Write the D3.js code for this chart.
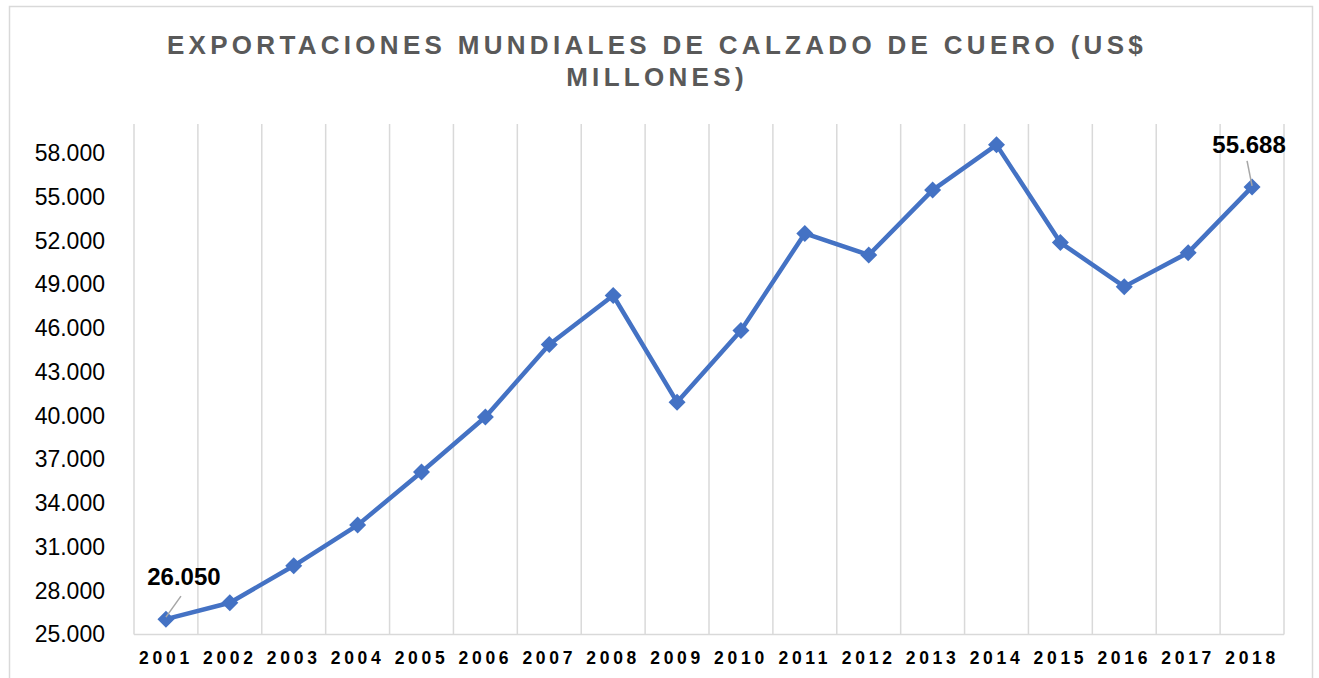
<!DOCTYPE html>
<html lang="es">
<head>
<meta charset="UTF-8">
<title>Exportaciones mundiales de calzado de cuero</title>
<script src="https://cdn.jsdelivr.net/npm/d3@7"></script>
<style>
	body{margin:0;background:#fff;}
	text{font-family:"Liberation Sans",Arial,sans-serif;}
</style>
</head>
<body>
<script>
// datos (US$ millones)
var years = ["2001","2002","2003","2004","2005","2006","2007","2008","2009","2010","2011","2012","2013","2014","2015","2016","2017","2018"];
var values = [26050,27180,29710,32500,36140,39910,44880,48240,40930,45840,52500,51020,55470,58570,51870,48850,51180,55688];
var yTicks = [25000,28000,31000,34000,37000,40000,43000,46000,49000,52000,55000,58000];
var titleLines = ["EXPORTACIONES MUNDIALES DE CALZADO DE CUERO (US$","MILLONES)"];
var labeled = [0, 17]; // indices con etiqueta de datos

var width = 1319, height = 678;
var plot = {left:134, right:1284, top:124, bottom:634.5};
var blue = "#4472C4", grid = "#d9d9d9";

var svg = d3.select("body").append("svg").attr("width",width).attr("height",height);
svg.append("rect").attr("width",width).attr("height",height).attr("fill","#fff");
// borde del grafico
svg.append("rect").attr("x",9.5).attr("y",6.5).attr("width",1303).attr("height",720)
	.attr("fill","none").attr("stroke",grid).attr("stroke-width",1.5);

// titulo
svg.append("g").selectAll("text").data(titleLines).enter().append("text")
	.attr("x",657).attr("y",function(d,i){return 54+i*32;})
	.attr("text-anchor","middle").attr("fill","#595959")
	.style("font-size","26px").style("font-weight","bold").style("letter-spacing","4.3px")
	.text(function(d){return d;});

var x = d3.scaleBand().domain(years).range([plot.left,plot.right]).padding(0);
var y = d3.scaleLinear().domain([25000,60000]).range([plot.bottom,plot.top]);
var cx = function(d,i){return x(years[i])+x.bandwidth()/2;};

// lineas verticales de la cuadricula
var bounds = years.map(function(d){return x(d);}).concat([plot.right]);
svg.append("g").selectAll("line").data(bounds).enter().append("line")
	.attr("x1",function(d){return d;}).attr("x2",function(d){return d;})
	.attr("y1",plot.top).attr("y2",plot.bottom)
	.attr("stroke",grid).attr("stroke-width",1.5);
svg.append("line").attr("x1",plot.left).attr("x2",plot.right)
	.attr("y1",plot.bottom).attr("y2",plot.bottom).attr("stroke",grid).attr("stroke-width",1.5);

// ejes
var es = d3.formatLocale({decimal:",",thousands:".",grouping:[3],currency:["$",""]});
var yAxis = d3.axisLeft(y).tickValues(yTicks).tickSize(0).tickPadding(29).tickFormat(es.format(",.0f"));
var gy = svg.append("g").attr("transform","translate("+plot.left+",0)").call(yAxis);
gy.select(".domain").remove();
gy.selectAll("text").attr("fill","#000").style("font-size","23px").attr("font-family",null);

var xAxis = d3.axisBottom(x).tickSize(0).tickPadding(17);
var gx = svg.append("g").attr("transform","translate(0,"+plot.bottom+")").call(xAxis);
gx.select(".domain").remove();
gx.selectAll("text").attr("fill","#000").attr("dx","0px").attr("font-family",null)
	.style("font-size","17.5px").style("font-weight","bold").style("letter-spacing","3.7px");

// serie
var line = d3.line().x(cx).y(function(d){return y(d);});
svg.append("path").datum(values).attr("d",line).attr("fill","none")
	.attr("stroke",blue).attr("stroke-width",4.5).attr("stroke-linejoin","round");

var r = 8.5;
svg.append("g").selectAll("path").data(values).enter().append("path")
	.attr("transform",function(d,i){return "translate("+cx(d,i)+","+y(d)+")";})
	.attr("d","M0,"+(-r)+"L"+r+",0L0,"+r+"L"+(-r)+",0Z")
	.attr("fill",blue);

// etiquetas de datos con linea guia
var offs = {0:{tx:18,ty:-34,lx1:0,ly1:-2,lx2:15,ly2:-23}, 17:{tx:-3,ty:-34,lx1:0,ly1:-1,lx2:-5,ly2:-26}};
var lab = svg.append("g").selectAll("g").data(labeled).enter().append("g")
	.attr("transform",function(i){return "translate("+cx(values[i],i)+","+y(values[i])+")";});
lab.append("line")
	.attr("x1",function(i){return offs[i].lx1;}).attr("y1",function(i){return offs[i].ly1;})
	.attr("x2",function(i){return offs[i].lx2;}).attr("y2",function(i){return offs[i].ly2;})
	.attr("stroke","#a6a6a6").attr("stroke-width",1.5);
lab.append("text")
	.attr("x",function(i){return offs[i].tx;}).attr("y",function(i){return offs[i].ty;})
	.attr("text-anchor","middle").attr("fill","#000")
	.style("font-size","24px").style("font-weight","bold")
	.text(function(i){return es.format(",.0f")(values[i]);});
</script>
</body>
</html>
